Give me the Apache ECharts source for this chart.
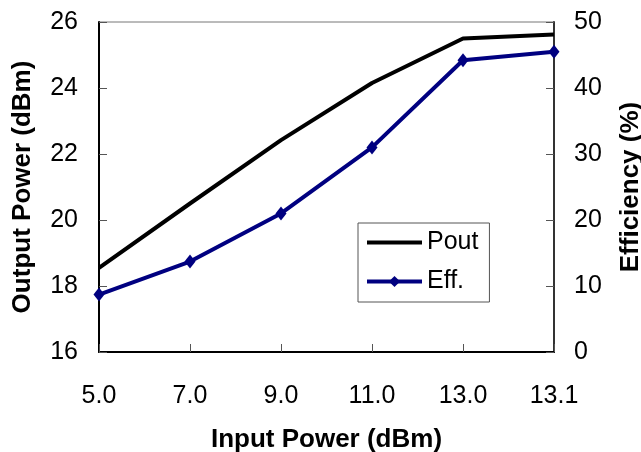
<!DOCTYPE html>
<html>
<head>
<meta charset="utf-8">
<script src="https://cdn.jsdelivr.net/npm/echarts@6/dist/echarts.min.js"></script>
<style>
  html, body { margin: 0; padding: 0; background: #fff; }
  #box { width: 641px; height: 452px; }
</style>
</head>
<body>
<div id="box"></div>
<script>
// 数据
var inputPower = ['5.0', '7.0', '9.0', '11.0', '13.0', '13.1'];
var pout = [18.55, 20.5, 22.42, 24.15, 25.5, 25.62];
var eff = [8.7, 13.7, 21.0, 31.0, 44.2, 45.5];

var font = 'Arial, "Liberation Sans", sans-serif';

var dom = document.getElementById('box');
var myChart = echarts.init(dom);

var option = {
    animation: false,
    textStyle: { fontFamily: font, color: '#000' },
    grid: {
        left: 99, right: 87, top: 22, bottom: 100,
        containLabel: false,
        outerBoundsMode: 'none',
        show: true,
        borderColor: '#777',
        borderWidth: 1
    },
    legend: {
        orient: 'vertical',
        left: 358,
        top: 223,
        padding: [7, 11, 8, 7],
        itemWidth: 55,
        itemHeight: 14,
        itemGap: 14,
        borderColor: '#555',
        borderWidth: 1,
        lineStyle: { width: 4 },
        textStyle: { fontSize: 25, color: '#000', fontFamily: font },
        data: [
            { name: 'Pout', itemStyle: { color: 'rgba(0,0,0,0)', borderWidth: 0 } },
            'Eff.'
        ]
    },
    xAxis: {
        type: 'category',
        boundaryGap: false,
        data: inputPower,
        name: 'Input Power (dBm)',
        nameLocation: 'middle',
        nameGap: 75,
        nameTextStyle: { fontSize: 26, fontWeight: 'bold', fontFamily: font, color: '#000' },
        axisLine: { lineStyle: { color: '#000', width: 2 } },
        axisTick: { inside: true, length: 8, lineStyle: { color: '#555' } },
        axisLabel: { fontSize: 25, color: '#000', margin: 32, fontFamily: font, interval: 0 },
        splitLine: { show: false }
    },
    yAxis: [{
        type: 'value',
        min: 16, max: 26, interval: 2,
        name: 'Output Power (dBm)',
        nameLocation: 'middle',
        nameGap: 63,
        nameTextStyle: { fontSize: 26, fontWeight: 'bold', fontFamily: font, color: '#000' },
        axisLine: { show: true, lineStyle: { color: '#000', width: 2 } },
        axisTick: { show: true, inside: true, length: 8, lineStyle: { color: '#555' } },
        axisLabel: { fontSize: 25, color: '#000', margin: 21, fontFamily: font },
        splitLine: { show: false }
    }, {
        type: 'value',
        position: 'right',
        min: 0, max: 50, interval: 10,
        name: 'Efficiency (%)',
        nameLocation: 'middle',
        nameGap: 64,
        nameRotate: 90,
        nameTextStyle: { fontSize: 26, fontWeight: 'bold', fontFamily: font, color: '#000' },
        axisLine: { show: true, lineStyle: { color: '#333', width: 2 } },
        axisTick: { show: true, inside: true, length: 8, lineStyle: { color: '#555' } },
        axisLabel: { fontSize: 25, color: '#000', margin: 20, fontFamily: font },
        splitLine: { show: false }
    }],
    series: [{
        name: 'Pout',
        type: 'line',
        yAxisIndex: 0,
        data: pout,
        symbol: 'none',
        lineStyle: { color: '#000', width: 4 },
        itemStyle: { color: '#000' }
    }, {
        name: 'Eff.',
        type: 'line',
        yAxisIndex: 1,
        data: eff,
        symbol: 'diamond',
        symbolSize: [11, 14],
        lineStyle: { color: '#000080', width: 4 },
        itemStyle: { color: '#000080' }
    }]
};

myChart.setOption(option);
</script>
</body>
</html>
